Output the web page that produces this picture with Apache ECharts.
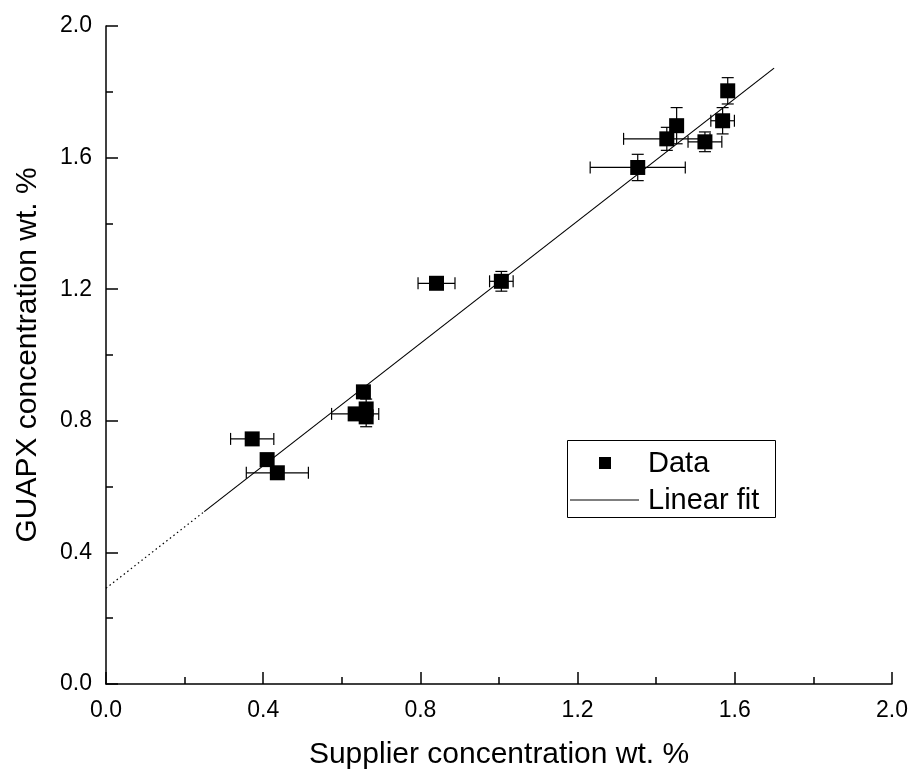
<!DOCTYPE html>
<html>
<head>
<meta charset="utf-8">
<script src="https://cdn.jsdelivr.net/npm/echarts@6/dist/echarts.min.js"></script>
<style>html,body{margin:0;padding:0;background:#fff}#c{width:911px;height:775px}</style>
</head>
<body>
<div id="c"></div>
<script>
var xVals = [0.372, 0.410, 0.436, 0.655, 0.634, 0.662, 0.662, 0.841, 1.006, 1.353, 1.427, 1.452, 1.524, 1.569, 1.582];
var yVals = [0.745, 0.682, 0.642, 0.888, 0.821, 0.836, 0.812, 1.218, 1.224, 1.570, 1.657, 1.697, 1.648, 1.712, 1.803];
var xErr  = [0.055, 0.010, 0.079, 0.010, 0.060, 0.010, 0.010, 0.047, 0.030, 0.121, 0.110, 0.010, 0.043, 0.030, 0.010];
var yErr  = [0.015, 0.012, 0.015, 0.015, 0.012, 0.030, 0.030, 0.015, 0.030, 0.040, 0.035, 0.055, 0.030, 0.040, 0.040];
var fitDotted = [[0, 0.291], [0.25, 0.524]];
var fitSolid = [[0.25, 0.524], [1.70, 1.872]];
var xTicks = ['0.0','0.4','0.8','1.2','1.6','2.0'];
var yTicks = ['0.0','0.4','0.8','1.2','1.6','2.0'];

var pts = xVals.map(function(x,i){return [x, yVals[i], xErr[i], yErr[i]];});
var FONT = 'Liberation Sans, Arial, sans-serif';

var chart = echarts.init(document.getElementById('c'), null, {renderer:'canvas'});
function axisCommon(name, ticks){
  return {
    type:'value', min:0, max:2, interval:0.4,
    name:name, nameLocation:'middle',
    nameTextStyle:{fontFamily:FONT, fontSize:30, color:'#000'},
    axisLine:{show:true, lineStyle:{color:'#000', width:1.5}},
    axisTick:{show:true, inside:true, length:12, lineStyle:{color:'#000', width:1.5}},
    minorTick:{show:true, splitNumber:2, length:7, lineStyle:{color:'#000', width:1.5}},
    splitLine:{show:false},
    axisLabel:{fontFamily:FONT, fontSize:23, color:'#000', formatter:function(v){return ticks[Math.round(v/0.4)];}, showMinLabel:true, showMaxLabel:true}
  };
}
var xa = axisCommon('Supplier concentration wt. %', xTicks);
xa.nameGap = 56; xa.axisLabel.margin = 15;
var ya = axisCommon('GUAPX concentration wt. %', yTicks);
ya.nameGap = 63; ya.axisLabel.margin = 14;

chart.setOption({
  animation:false,
  grid:{left:106, right:19, top:26, bottom:89, containLabel:false},
  xAxis:xa, yAxis:ya,
  series:[
    {type:'line', data:fitDotted, symbol:'none', lineStyle:{color:'#000', width:1.2, type:[1.5,3]}, silent:true},
    {type:'line', data:fitSolid, symbol:'none', lineStyle:{color:'#000', width:1.2}, silent:true},
    {type:'scatter', data:pts, symbol:'rect', symbolSize:15, itemStyle:{color:'#000', opacity:1}, z:3},
    {type:'custom', data:pts, z:4, renderItem:function(params, api){
      var x=api.value(0), y=api.value(1), ex=api.value(2), ey=api.value(3);
      var l=api.coord([x-ex,y]), r=api.coord([x+ex,y]), t=api.coord([x,y+ey]), b=api.coord([x,y-ey]);
      var c=6, st={stroke:'#000', lineWidth:1.2};
      return {type:'group', children:[
        {type:'line', shape:{x1:l[0],y1:l[1],x2:r[0],y2:r[1]}, style:st},
        {type:'line', shape:{x1:l[0],y1:l[1]-c,x2:l[0],y2:l[1]+c}, style:st},
        {type:'line', shape:{x1:r[0],y1:r[1]-c,x2:r[0],y2:r[1]+c}, style:st},
        {type:'line', shape:{x1:t[0],y1:t[1],x2:b[0],y2:b[1]}, style:st},
        {type:'line', shape:{x1:t[0]-c,y1:t[1],x2:t[0]+c,y2:t[1]}, style:st},
        {type:'line', shape:{x1:b[0]-c,y1:b[1],x2:b[0]+c,y2:b[1]}, style:st}
      ]};
    }}
  ],
  graphic:[
    {type:'rect', left:567, top:440, shape:{width:208, height:77}, style:{fill:'#fff', stroke:'#000', lineWidth:1}, z:10},
    {type:'rect', left:599, top:457, shape:{width:12, height:12}, style:{fill:'#000'}, z:11},
    {type:'text', style:{x:648, y:464, text:'Data', font:'29px '+FONT, fill:'#000', verticalAlign:'middle', align:'left'}, z:11},
    {type:'line', shape:{x1:570, y1:500, x2:639, y2:500}, style:{stroke:'#000', lineWidth:1}, z:11},
    {type:'text', style:{x:648, y:501, text:'Linear fit', font:'29px '+FONT, fill:'#000', verticalAlign:'middle', align:'left'}, z:11}
  ]
});
</script>
</body>
</html>
